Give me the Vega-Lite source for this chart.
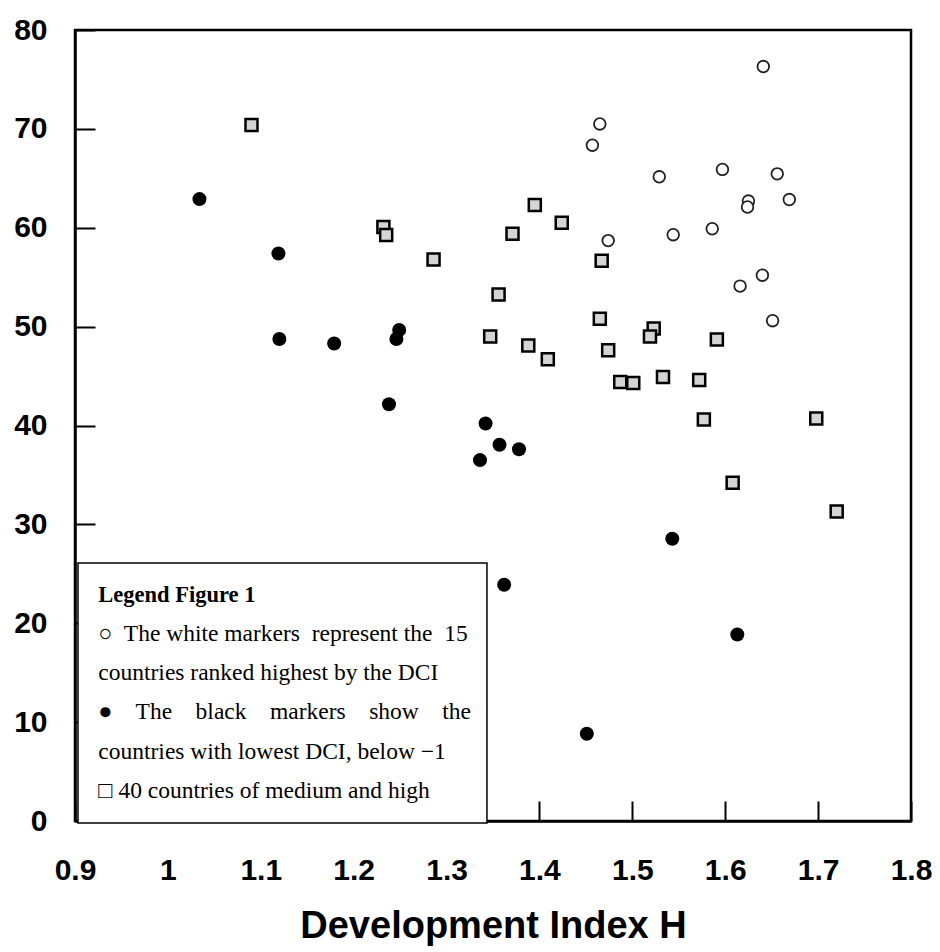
{
  "$schema": "https://vega.github.io/schema/vega-lite/v6.json",
  "width": 836,
  "height": 791,
  "autosize": {"type": "none"},
  "padding": {"left": 75, "top": 30, "right": 29, "bottom": 131},
  "background": "white",
  "config": {
    "view": {"stroke": "black", "strokeWidth": 2.5},
    "axis": {
      "grid": false,
      "domainColor": "black",
      "domainWidth": 2.5,
      "tickColor": "black",
      "tickWidth": 2,
      "tickSize": -20,
      "labelFont": "Liberation Sans",
      "labelFontWeight": "bold",
      "labelFontSize": 30,
      "labelColor": "black",
      "labelOverlap": false,
      "labelFlush": false,
      "labelBound": false,
      "titleFont": "Liberation Sans",
      "titleFontWeight": "bold",
      "titleColor": "black"
    }
  },
  "datasets": {
    "points": [
      {"group": "medium", "h": 1.090, "v": 70.4},
      {"group": "medium", "h": 1.232, "v": 60.07},
      {"group": "medium", "h": 1.235, "v": 59.26},
      {"group": "medium", "h": 1.286, "v": 56.8},
      {"group": "medium", "h": 1.371, "v": 59.4},
      {"group": "medium", "h": 1.395, "v": 62.3},
      {"group": "medium", "h": 1.424, "v": 60.5},
      {"group": "medium", "h": 1.467, "v": 56.67},
      {"group": "medium", "h": 1.356, "v": 53.26},
      {"group": "medium", "h": 1.465, "v": 50.8},
      {"group": "medium", "h": 1.523, "v": 49.8},
      {"group": "medium", "h": 1.519, "v": 49.0},
      {"group": "medium", "h": 1.347, "v": 49.0},
      {"group": "medium", "h": 1.388, "v": 48.1},
      {"group": "medium", "h": 1.409, "v": 46.7},
      {"group": "medium", "h": 1.474, "v": 47.6},
      {"group": "medium", "h": 1.487, "v": 44.4},
      {"group": "medium", "h": 1.501, "v": 44.3},
      {"group": "medium", "h": 1.591, "v": 48.7},
      {"group": "medium", "h": 1.533, "v": 44.9},
      {"group": "medium", "h": 1.572, "v": 44.6},
      {"group": "medium", "h": 1.577, "v": 40.6},
      {"group": "medium", "h": 1.698, "v": 40.7},
      {"group": "medium", "h": 1.608, "v": 34.2},
      {"group": "medium", "h": 1.720, "v": 31.3},
      {"group": "top15", "h": 1.465, "v": 70.5},
      {"group": "top15", "h": 1.457, "v": 68.35},
      {"group": "top15", "h": 1.529, "v": 65.15},
      {"group": "top15", "h": 1.597, "v": 65.9},
      {"group": "top15", "h": 1.474, "v": 58.7},
      {"group": "top15", "h": 1.544, "v": 59.3},
      {"group": "top15", "h": 1.586, "v": 59.9},
      {"group": "top15", "h": 1.641, "v": 76.3},
      {"group": "top15", "h": 1.656, "v": 65.45},
      {"group": "top15", "h": 1.625, "v": 62.7},
      {"group": "top15", "h": 1.624, "v": 62.1},
      {"group": "top15", "h": 1.669, "v": 62.85},
      {"group": "top15", "h": 1.640, "v": 55.2},
      {"group": "top15", "h": 1.616, "v": 54.1},
      {"group": "top15", "h": 1.651, "v": 50.6},
      {"group": "low", "h": 1.034, "v": 62.9},
      {"group": "low", "h": 1.119, "v": 57.4},
      {"group": "low", "h": 1.120, "v": 48.75},
      {"group": "low", "h": 1.179, "v": 48.3},
      {"group": "low", "h": 1.249, "v": 49.66},
      {"group": "low", "h": 1.246, "v": 48.75},
      {"group": "low", "h": 1.238, "v": 42.15},
      {"group": "low", "h": 1.342, "v": 40.2},
      {"group": "low", "h": 1.357, "v": 38.05},
      {"group": "low", "h": 1.378, "v": 37.6},
      {"group": "low", "h": 1.336, "v": 36.5},
      {"group": "low", "h": 1.543, "v": 28.55},
      {"group": "low", "h": 1.362, "v": 23.9},
      {"group": "low", "h": 1.613, "v": 18.86},
      {"group": "low", "h": 1.451, "v": 8.82}
    ]
  },
  "layer": [
    {
      "data": {"name": "points"},
      "transform": [{"filter": "datum.group === 'medium'"}],
      "mark": {"type": "square", "fill": "#d4d4d4", "stroke": "black", "strokeWidth": 2.5, "size": 144, "opacity": 1},
      "encoding": {
        "x": {
          "field": "h", "type": "quantitative", "title": "Development Index H",
          "scale": {"domain": [0.9, 1.8], "nice": false, "zero": false},
          "axis": {
            "values": [0.9, 1, 1.1, 1.2, 1.3, 1.4, 1.5, 1.6, 1.7, 1.8],
            "format": "~g",
            "labelPadding": 54,
            "titleFontSize": 38,
            "titlePadding": 22
          }
        },
        "y": {
          "field": "v", "type": "quantitative", "title": null,
          "scale": {"domain": [0, 80], "nice": false, "zero": false},
          "axis": {
            "values": [0, 10, 20, 30, 40, 50, 60, 70, 80],
            "labelPadding": 48
          }
        }
      }
    },
    {
      "data": {"name": "points"},
      "transform": [{"filter": "datum.group === 'top15'"}],
      "mark": {"type": "circle", "fill": "white", "stroke": "#222222", "strokeWidth": 1.8, "size": 135, "opacity": 1},
      "encoding": {
        "x": {"field": "h", "type": "quantitative", "title": "Development Index H"},
        "y": {"field": "v", "type": "quantitative", "title": null}
      }
    },
    {
      "data": {"name": "points"},
      "transform": [{"filter": "datum.group === 'low'"}],
      "mark": {"type": "circle", "fill": "black", "size": 196, "opacity": 1},
      "encoding": {
        "x": {"field": "h", "type": "quantitative", "title": "Development Index H"},
        "y": {"field": "v", "type": "quantitative", "title": null}
      }
    },
    {
      "data": {"values": [{}]},
      "mark": {"type": "rect", "fill": "white", "stroke": "black", "strokeWidth": 1.5},
      "encoding": {
        "x": {"datum": 0.9032, "type": "quantitative", "title": "Development Index H"},
        "x2": {"datum": 1.3435},
        "y": {"datum": 26.1, "type": "quantitative", "title": null},
        "y2": {"datum": -0.2}
      }
    },
    {
      "data": {"values": [{}]},
      "mark": {"type": "text", "text": "Legend Figure 1", "font": "Liberation Serif", "fontWeight": "bold", "fontSize": 22.5, "align": "left", "baseline": "alphabetic", "color": "black"},
      "encoding": {
        "x": {"datum": 0.9251, "type": "quantitative", "title": "Development Index H"},
        "y": {"datum": 22.18, "type": "quantitative", "title": null}
      }
    },
    {
      "data": {"values": [{}]},
      "mark": {
        "type": "text",
        "text": [
          "○\u00a0 The white markers\u00a0 represent the\u00a0 15",
          "countries ranked highest by the DCI",
          "●\u00a0\u00a0\u00a0 The\u00a0\u00a0\u00a0 black\u00a0\u00a0\u00a0 markers\u00a0\u00a0\u00a0 show\u00a0\u00a0\u00a0 the",
          "countries with lowest DCI, below −1",
          "□ 40 countries of medium and high"
        ],
        "font": "Liberation Serif", "fontSize": 23.5, "lineHeight": 39.2,
        "align": "left", "baseline": "alphabetic", "color": "black"
      },
      "encoding": {
        "x": {"datum": 0.9251, "type": "quantitative", "title": "Development Index H"},
        "y": {"datum": 18.2, "type": "quantitative", "title": null}
      }
    }
  ]
}
